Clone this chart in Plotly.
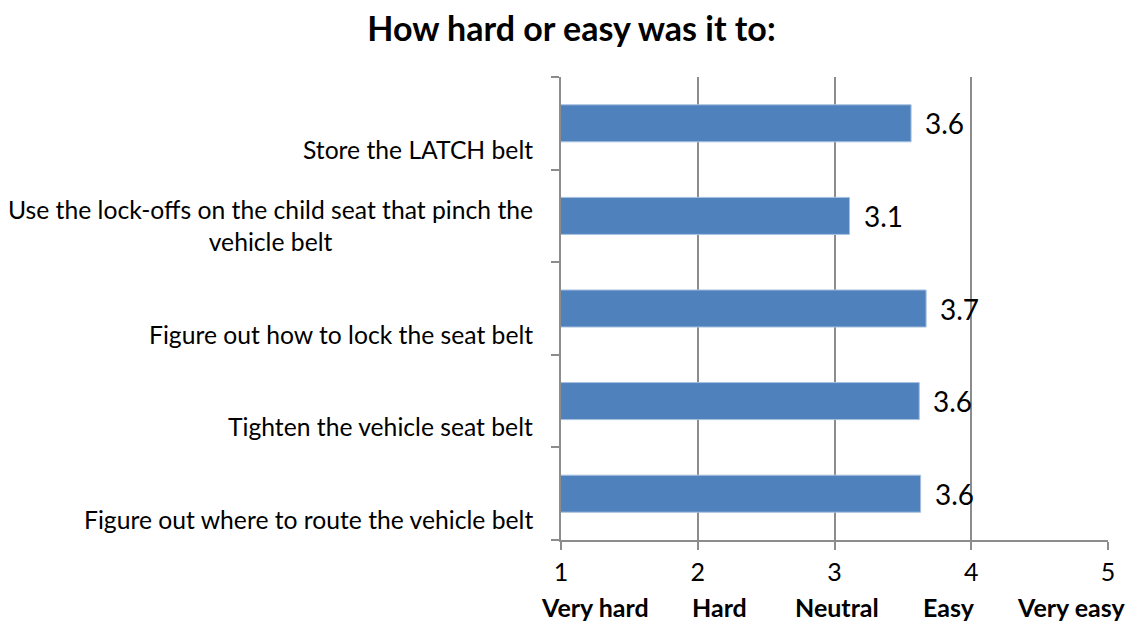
import plotly.graph_objects as go

# categories, top to bottom as shown
tasks = [
    "Store the LATCH belt",
    "Use the lock-offs on the child seat that pinch the<br>vehicle belt",
    "Figure out how to lock the seat belt",
    "Tighten the vehicle seat belt",
    "Figure out where to route the vehicle belt",
]
scores = [3.56, 3.11, 3.67, 3.62, 3.63]

scale_vals = [1, 2, 3, 4, 5]
scale_words = ["Very hard", "Hard", "Neutral", "Easy", "Very easy"]
word_pos = [1.25, 2.16, 3.02, 3.84, 4.73]

FONT = "Lato"
GRID = "#8C8C8C"
pos = list(range(len(tasks)))

fig = go.Figure()
fig.add_trace(go.Bar(
    x=scores, y=pos, orientation="h", width=0.4,
    marker=dict(color="#4F81BD", line=dict(color="#A9C1DF", width=1)),
    hoverinfo="skip",
))

# value labels right of each bar
for i, v in enumerate(scores):
    fig.add_annotation(text=f"{v:.1f}", x=v, y=i, xanchor="left", xshift=12,
                       showarrow=False, font=dict(family=FONT, size=28, color="black"))

# category labels sit low in each band (Excel style)
for i, t in enumerate(tasks):
    fig.add_annotation(text=t, xref="paper", x=0, xanchor="right", xshift=-26,
                       y=i + 0.5, yref="y", yanchor="bottom", yshift=4,
                       align="center", showarrow=False,
                       font=dict(family=FONT, size=24.7, color="black"))

# bold scale words under the numbers
for p, w in zip(word_pos, scale_words):
    fig.add_annotation(text=f"<b>{w}</b>", x=p, xref="x", y=0, yref="paper",
                       yshift=-67, yanchor="middle", showarrow=False,
                       font=dict(family=FONT, size=25, color="black"))

# page body shifts the figure 8px right/down
fig.update_layout(
    width=1127, height=614,
    margin=dict(l=553, r=27, t=69, b=82),
    paper_bgcolor="white", plot_bgcolor="white",
    showlegend=False,
    title=dict(text="<b>How hard or easy was it to:</b>", x=0.5, xanchor="center",
               y=0.965, yanchor="middle", font=dict(family=FONT, size=34, color="black")),
    xaxis=dict(range=[1, 5], tickvals=scale_vals, ticktext=[str(v) for v in scale_vals],
               showgrid=True, gridcolor=GRID, gridwidth=1.5,
               showline=True, linecolor=GRID, linewidth=1.5,
               ticks="outside", ticklen=8, tickcolor=GRID, tickwidth=1.5,
               ticklabelstandoff=1,
               tickfont=dict(family=FONT, size=25, color="black"), zeroline=False),
    yaxis=dict(range=[len(tasks) - 0.5, -0.5], showticklabels=False,
               showgrid=False, zeroline=False,
               showline=True, linecolor=GRID, linewidth=1.5, ticks="",
               minor=dict(tickvals=[i - 0.5 for i in range(len(tasks) + 1)],
                          ticks="outside", ticklen=8, tickcolor=GRID, tickwidth=1.5,
                          showgrid=False)),
)

fig.write_html("out.html")
